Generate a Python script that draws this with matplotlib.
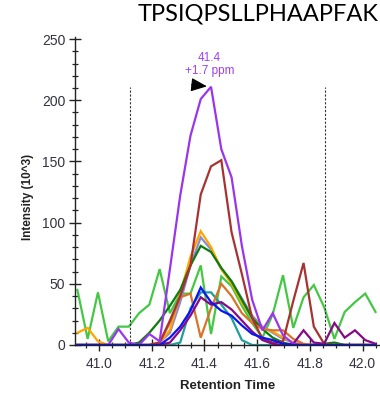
import matplotlib
matplotlib.use("Agg")
import matplotlib.pyplot as plt
from matplotlib.ticker import MultipleLocator

title = "TPSIQPSLLPHAAPFAK"
xlabel = "Retention Time"
ylabel = "Intensity (10^3)"
annot_lines = ["41.4", "+1.7 ppm"]

times = [40.918, 40.957, 40.996, 41.035, 41.074, 41.113, 41.152, 41.191, 41.230, 41.269,
         41.308, 41.347, 41.386, 41.425, 41.464, 41.503, 41.542, 41.581, 41.620, 41.659,
         41.698, 41.737, 41.776, 41.815, 41.854, 41.893, 41.932, 41.971, 42.010, 42.049]

bright_green = [45, 5, 43, 3, 15, 15, 26, 33, 62, 26, 42, 42, 65, 9, 56, 48, 32, 18, 6, 25,
                57, 14, 39, 49, 31, 5, 27, 35, 42, 27]
teal = [0, 0, 0, 0, 0, 0, 0, 0, 0, 0, 2, 30, 43, 43, 33, 22, 4, 0, 0, 0,
        0, 0, 0, 0, 0, 0, 0, 0, 0, 0]
lavender = [0, 0, 0, 0, 0, 0, 0, 0, 2, 10, 35, 65, 88, 78, 62, 52, 38, 24, 15, 10,
            5, 2, 0, 0, 0, 0, 0, 0, 0, 0]
orange = [10, 14, 3, 0, 0, 0, 0, 0, 2, 12, 42, 72, 93, 80, 62, 50, 35, 22, 14, 11,
          6, 2, 0, 0, 0, 0, 0, 0, 0, 0]
dark_green = [0, 0, 0, 0, 0, 0, 2, 10, 20, 32, 45, 65, 81, 76, 63, 52, 37, 22, 13, 6,
              2, 0, 0, 0, 1, 2, 0, 0, 0, 0]
chocolate = [0, 0, 0, 0, 0, 0, 0, 0, 2, 18, 39, 42, 6, 30, 50, 40, 26, 18, 13, 12,
             12, 5, 1, 0, 0, 0, 0, 0, 0, 0]
brown = [0, 0, 0, 0, 0, 0, 0, 0, 2, 20, 40, 65, 123, 146, 151, 92, 58, 22, 5, 2,
         3, 36, 67, 15, 1, 0, 0, 0, 0, 0]
dark_purple = [0, 0, 0, 0, 0, 0, 0, 0, 0, 2, 12, 24, 39, 33, 35, 29, 20, 11, 4, 1,
               0, 1, 12, 2, 1, 18, 6, 12, 4, 1]
purple = [0, 0, 0, 0, 13, 2, 0, 9, 3, 62, 122, 171, 201, 211, 160, 137, 81, 37, 12, 26,
          8, 1, 0, 0, 0, 0, 0, 0, 0, 0]
blue = [0, 0, 0, 0, 0, 0, 0, 0, 0, 6, 15, 28, 47, 35, 28, 24, 16, 9, 6, 4,
        1, 0, 0, 0, 0, 0, 0, 0, 0, 0]

series = [
    (bright_green, "#44c844"),
    (teal, "#1f9e9e"),
    (lavender, "#8a8ad0"),
    (orange, "#ffa500"),
    (dark_green, "#0a7d0a"),
    (chocolate, "#d9732a"),
    (brown, "#a83232"),
    (dark_purple, "#860a86"),
    (purple, "#9a35ee"),
    (blue, "#0a14f5"),
]

boundaries = [41.118, 41.858]
peak_time = 41.425
peak_value = 211

plt.rcParams['font.family'] = ['Liberation Sans', 'DejaVu Sans']

fig = plt.figure(figsize=(3.8, 4.0), dpi=100)
ax = fig.add_axes([0.1974, 0.1375, 0.8026, 0.771])

for vals, col in series:
    ax.plot(times, vals, color=col, lw=1.6, solid_joinstyle='miter', clip_on=True)

ax.vlines(boundaries, 0, peak_value, colors="#333333", linestyles=(0, (2, 1.5)), lw=0.8)

ax.set_xlim(40.909, 42.066)
ax.set_ylim(0, 252)
ax.xaxis.set_major_locator(MultipleLocator(0.2))
ax.xaxis.set_minor_locator(MultipleLocator(0.05))
ax.yaxis.set_major_locator(MultipleLocator(50))
ax.yaxis.set_minor_locator(MultipleLocator(10))
ax.xaxis.set_major_formatter(plt.FuncFormatter(lambda v, p: f"{v:.1f}"))

for s in ["top", "right"]:
    ax.spines[s].set_visible(False)
for s in ["left", "bottom"]:
    ax.spines[s].set_color("#222222")
    ax.spines[s].set_linewidth(1.0)

ax.tick_params(axis="both", which="major", direction="inout", length=8, width=1.0,
               color="#222222", labelsize=10, labelcolor="#333344")
ax.tick_params(axis="both", which="minor", direction="inout", length=4.5, width=0.9,
               color="#222222")
ax.tick_params(axis="x", which="major", pad=5)
ax.tick_params(axis="y", which="major", pad=3)

ax.set_xlabel(xlabel, fontsize=9.5, fontweight="bold", color="#222222")
ax.xaxis.set_label_coords(0.5, -0.115)
ax.set_ylabel(ylabel, fontsize=8.5, fontweight="bold", color="#222222")
ax.yaxis.set_label_coords(-0.135, 0.48)

ax.annotate("", xy=(peak_time, peak_value), xytext=(-14, 1.5), textcoords="offset points",
            arrowprops=dict(arrowstyle="-|>,head_length=0.7,head_width=0.3", color="black",
                            lw=0.8, mutation_scale=14, shrinkA=0, shrinkB=3))
ax.annotate("\n".join(annot_lines), xy=(peak_time, peak_value), xytext=(-1, 7),
            textcoords="offset points", ha="center", va="bottom", fontsize=8.5,
            color="#a040f0", linespacing=1.15)

fig.text(0.68, 0.99, title, ha="center", va="top", fontsize=17,
         family=["Lato", "DejaVu Sans"], color="black")

fig.savefig("out.png", dpi=100)
